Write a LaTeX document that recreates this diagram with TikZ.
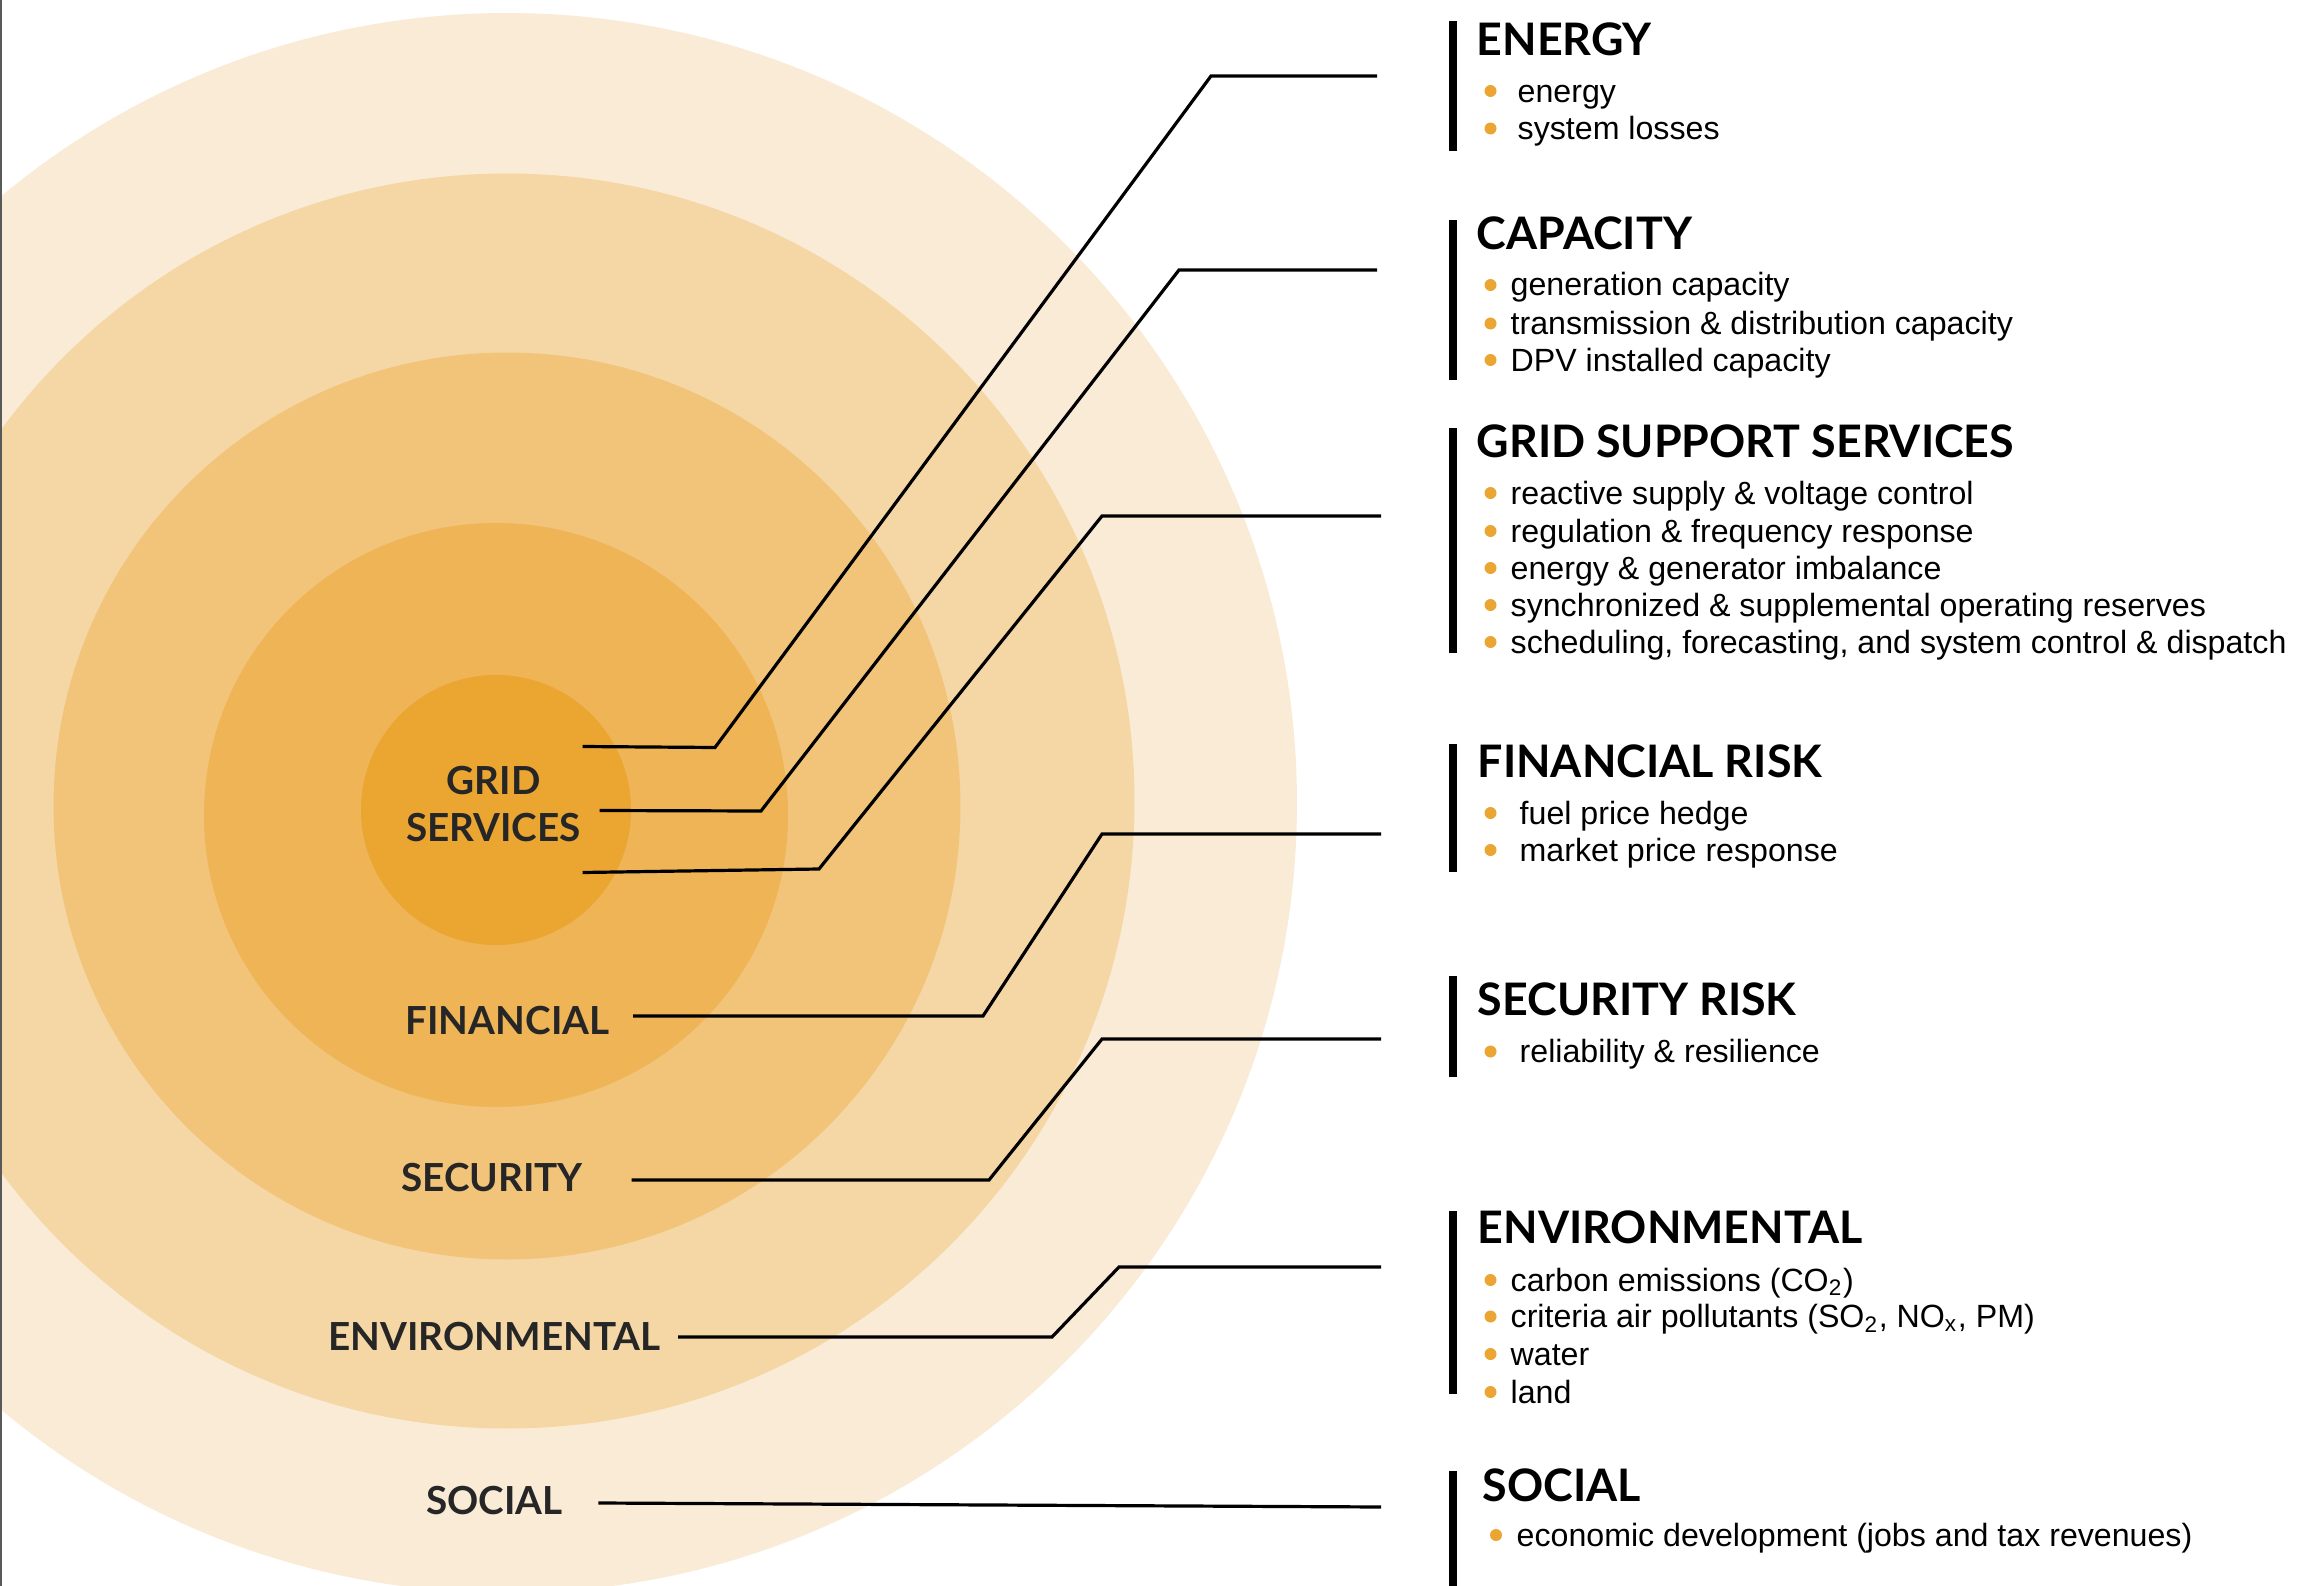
\documentclass[tikz,border=0pt]{standalone}
\usepackage{fontspec}
\setmainfont{Liberation Sans}
\newfontfamily\headfont{Lato}
\usetikzlibrary{positioning}

\definecolor{ringA}{HTML}{EBA531}
\definecolor{ringB}{HTML}{EEB456}
\definecolor{ringC}{HTML}{F1C47A}
\definecolor{ringD}{HTML}{F5D7A5}
\definecolor{ringE}{HTML}{FAEBD6}
\definecolor{labelgray}{HTML}{262626}
\definecolor{dotorange}{HTML}{EBA532}

\tikzset{
  ringlabel/.style={font=\headfont\bfseries\fontsize{11}{13.3}\selectfont,
    text=labelgray, align=center, inner sep=0pt},
  heading/.style={font=\headfont\bfseries\fontsize{12.75}{15}\selectfont,
    anchor=base west, inner sep=0pt},
  item/.style={font=\fontsize{9.15}{11}\selectfont, anchor=base west, inner sep=0pt},
  bar/.style={line width=0.8mm},
  link/.style={line width=0.32mm},
}

\begin{document}
\begin{tikzpicture}[x=0.1mm,y=-0.1mm]
  \useasboundingbox (0,0) rectangle (2297,1586);
  \clip (0,0) rectangle (2297,1586);

  % rings, outside in
  \fill[ringE] (507,803) circle[radius=79mm];
  \fill[ringD] (507,801) circle[radius=62.75mm];
  \fill[ringC] (507,806) circle[radius=45.35mm];
  \fill[ringB] (496,815) circle[radius=29.2mm];
  \fill[ringA] (496,810) circle[radius=13.5mm];
  \draw[black!65, line width=0.2mm] (1,0) -- (1,1586);

  % ring labels
  \draw[nodes={ringlabel}]
    (493.5,804) node (grid){GRID\\SERVICES}
    (507.5,1034) node[anchor=base] (fin){FINANCIAL}
    (492,1191) node[anchor=base] (sec){SECURITY}
    (494.5,1350) node[anchor=base] (env){ENVIRONMENTAL}
    (494.5,1514) node[anchor=base] (soc){SOCIAL};

  % headings
  \draw[nodes={heading}]
    (1476,56) node (energy){ENERGY}
    (1476,249) node (capacity){CAPACITY}
    (1476,457) node (support){GRID SUPPORT SERVICES}
    (1477,777) node (finrisk){FINANCIAL RISK}
    (1477,1015) node (secrisk){SECURITY RISK}
    (1477,1243) node (environ){ENVIRONMENTAL}
    (1482,1501) node (social){SOCIAL};

  % bullet items
  \draw[nodes={item}]
    (1517,102) node (e1){energy}
    (1517,139.5) node (e2){system losses}
    (1510,296) node (c1){generation capacity}
    (1510,334.5) node (c2){transmission \& distribution capacity}
    (1510,371) node (c3){DPV installed capacity}
    (1510,504) node (g1){reactive supply \& voltage control}
    (1510,542) node (g2){regulation \& frequency response}
    (1510,579) node (g3){energy \& generator imbalance}
    (1510,616) node (g4){synchronized \& supplemental operating reserves}
    (1510,653) node (g5){scheduling, forecasting, and system control \& dispatch}
    (1519,824) node (f1){fuel price hedge}
    (1519,861) node (f2){market price response}
    (1519,1062.5) node (s1){reliability \& resilience}
    (1510,1291) node (v1){carbon emissions (CO\textsubscript{2})}
    (1510,1327.5) node (v2){criteria air pollutants (SO\textsubscript{2}, NO\textsubscript{x}, PM)}
    (1510,1365) node (v3){water}
    (1510,1403) node (v4){land}
    (1516,1546) node (o1){economic development (jobs and tax revenues)};
  \foreach \n in {e1,e2,c1,c2,c3,g1,g2,g3,g4,g5,f1,f2,s1,v1,v2,v3,v4}
    \fill[dotorange] ([yshift=1.1mm]\n.base west -| 1490.5,0) circle[radius=0.6mm];
  \fill[dotorange] ([yshift=1.1mm]o1.base west -| 1496,0) circle[radius=0.6mm];

  % bars
  \draw[bar] (1452.5,21) -- (1452.5,151);
  \draw[bar] (1452.5,220) -- (1452.5,380);
  \draw[bar] (1452.5,428) -- (1452.5,653);
  \draw[bar] (1452.5,744) -- (1452.5,872);
  \draw[bar] (1452.5,976) -- (1452.5,1077);
  \draw[bar] (1452.5,1211) -- (1452.5,1394);
  \draw[bar] (1452.5,1471) -- (1452.5,1590);

  % connector ends
  \coordinate (eR) at (1377,76);
  \coordinate (cR) at (1377,270);
  \coordinate (gR) at (1381,516);
  \coordinate (fR) at (1381,834);
  \coordinate (sR) at (1381,1039);
  \coordinate (vR) at (1381,1267);
  \coordinate (oR) at (1381,1507);

  \begin{scope}[link]
    \draw ([xshift=0.1mm,yshift=5.75mm]grid.east) -- (715,747.5) -- (1211,76) -- (eR);
    \draw ([xshift=1.8mm,yshift=-0.65mm]grid.east) -- (761,811) -- (1179,270) -- (cR);
    \draw ([xshift=0.1mm,yshift=-6.85mm]grid.east) -- (819,869) -- (1102,516) -- (gR);
    \draw ([xshift=2.3mm,yshift=1.8mm]fin.base east) -- (983,1016) -- (1102,834) -- (fR);
    \draw ([xshift=4.8mm,yshift=1.1mm]sec.base east) -- (989,1180) -- (1102,1039) -- (sR);
    \draw ([xshift=1.7mm,yshift=1.3mm]env.base east) -- (1052,1337) -- (1119,1267) -- (vR);
    \draw ([xshift=3.5mm,yshift=1.1mm]soc.base east) -- (oR);
  \end{scope}
\end{tikzpicture}
\end{document}
